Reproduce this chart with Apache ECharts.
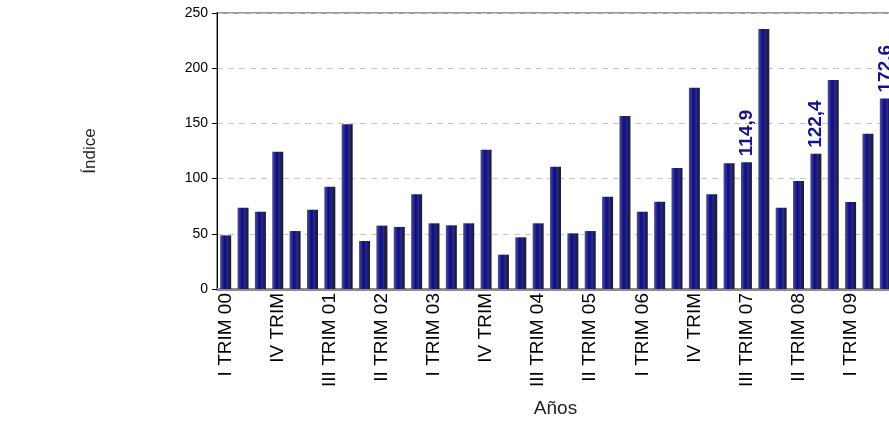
<!DOCTYPE html>
<html>
<head>
<meta charset="utf-8">
<script src="https://cdn.jsdelivr.net/npm/echarts@6/dist/echarts.min.js"></script>
<style>
  html, body { margin: 0; padding: 0; background: #fff; }
  #chart { width: 889px; height: 429px; }
</style>
</head>
<body>
<div id="chart"></div>
<script>
// trimestres: I TRIM 00 .. III TRIM 09
const categories = [
  'I TRIM 00', 'II TRIM 00', 'III TRIM 00', 'IV TRIM',
  'I TRIM 01', 'II TRIM 01', 'III TRIM 01', 'IV TRIM',
  'I TRIM 02', 'II TRIM 02', 'III TRIM 02', 'IV TRIM',
  'I TRIM 03', 'II TRIM 03', 'III TRIM 03', 'IV TRIM',
  'I TRIM 04', 'II TRIM 04', 'III TRIM 04', 'IV TRIM',
  'I TRIM 05', 'II TRIM 05', 'III TRIM 05', 'IV TRIM',
  'I TRIM 06', 'II TRIM 06', 'III TRIM 06', 'IV TRIM',
  'I TRIM 07', 'II TRIM 07', 'III TRIM 07', 'IV TRIM',
  'I TRIM 08', 'II TRIM 08', 'III TRIM 08', 'IV TRIM',
  'I TRIM 09', 'II TRIM 09', 'III TRIM 09'
];

const values = [
  48.6, 73.6, 70.0, 124.4,
  52.5, 71.8, 92.7, 149.2,
  43.5, 57.4, 56.2, 85.8,
  59.5, 57.7, 59.5, 126.2,
  31.1, 46.8, 59.5, 110.8,
  50.4, 52.5, 83.6, 156.7,
  70.0, 79.1, 109.6, 182.3,
  85.8, 113.9, 114.9, 235.5,
  73.6, 97.8, 122.4, 189.3,
  78.8, 140.7, 172.6
];

// barras con etiqueta de valor
const labelled = [30, 34, 38];

const yTicks = { min: 0, max: 250, interval: 50 };

const chart = echarts.init(document.getElementById('chart'));

const barColor = new echarts.graphic.LinearGradient(0, 0, 1, 0, [
  { offset: 0, color: '#4d4dae' },
  { offset: 0.4, color: '#0c0c82' },
  { offset: 0.72, color: '#2c2c8c' },
  { offset: 0.73, color: '#23233f' },
  { offset: 1, color: '#1c1c30' }
]);

const seriesData = values.map((v, i) => {
  if (labelled.indexOf(i) < 0) return v;
  return {
    value: v,
    label: {
      show: true,
      position: 'top',
      rotate: 90,
      align: 'left',
      verticalAlign: 'middle',
      distance: 4,
      offset: [2, 0],
      formatter: () => v.toFixed(1).replace('.', ','),
      color: '#14148a',
      fontWeight: 'bold',
      fontSize: 19,
      fontFamily: 'Liberation Sans'
    }
  };
});

chart.setOption({
  animation: false,
  textStyle: { fontFamily: 'Liberation Sans' },
  grid: {
    left: 217,
    top: 13,
    width: 677,
    height: 276,
    outerBoundsMode: 'none',
    containLabel: false,
    show: true,
    borderColor: '#9a9a9a',
    borderWidth: 2
  },
  xAxis: {
    type: 'category',
    data: categories,
    name: 'Años',
    nameLocation: 'middle',
    nameGap: 110,
    nameTextStyle: { fontSize: 19, color: '#222' },
    axisLine: { lineStyle: { color: '#8c8c8c', width: 3 } },
    axisTick: { show: false },
    axisLabel: {
      interval: 2,
      rotate: 90,
      fontSize: 19,
      color: '#000',
      margin: 4
    }
  },
  yAxis: {
    type: 'value',
    min: yTicks.min,
    max: yTicks.max,
    interval: yTicks.interval,
    name: 'Índice',
    nameLocation: 'middle',
    nameGap: 118,
    nameTextStyle: { fontSize: 17, color: '#222' },
    axisLine: { show: true, lineStyle: { color: '#000', width: 1 } },
    axisTick: { show: true, length: 5, lineStyle: { color: '#000' } },
    axisLabel: { fontSize: 14, color: '#000', margin: 9 },
    splitLine: { lineStyle: { color: '#c8c8c8', type: [6, 5] } }
  },
  series: [{
    type: 'bar',
    data: seriesData,
    barWidth: 11,
    itemStyle: { color: barColor }
  }]
});
</script>
</body>
</html>
